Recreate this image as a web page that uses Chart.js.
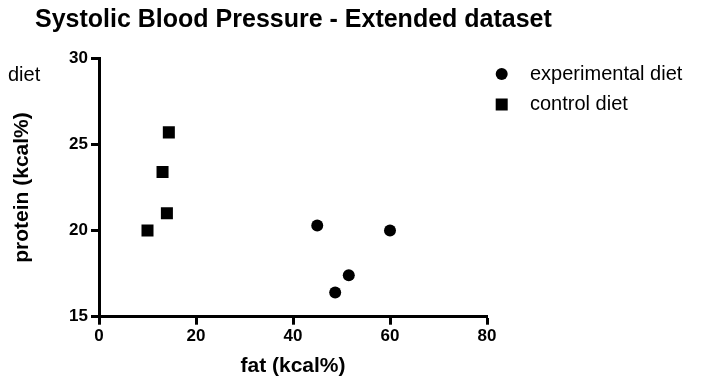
<!DOCTYPE html>
<html>
<head>
<meta charset="utf-8">
<script src="https://cdn.jsdelivr.net/npm/chart.js@4/dist/chart.umd.min.js"></script>
<style>
html,body{margin:0;padding:0;background:#fff;}
#wrap{width:704px;height:381px;position:relative;}
</style>
</head>
<body>
<div id="wrap"><canvas id="c" width="704" height="381"></canvas></div>
<script>
const chartTitle = "Systolic Blood Pressure - Extended dataset";
const xAxisTitle = "fat (kcal%)";
const yAxisTitle = "protein (kcal%)";
const legendTitle = "diet";
const seriesNames = ["experimental diet", "control diet"];
const experimentalFat = [45, 60, 51.5, 48.7];
const experimentalProtein = [20.3, 20, 17.4, 16.4];
const controlFat = [14.4, 13.1, 14, 10];
const controlProtein = [25.7, 23.4, 21, 20];
const xTicks = [0, 20, 40, 60, 80];
const yTicks = [15, 20, 25, 30];

const FONT = '"Liberation Sans", Arial, Helvetica, sans-serif';
Chart.defaults.font.family = FONT;
Chart.defaults.color = '#000';

function pts(xs, ys){ return xs.map((x,i)=>({x:x, y:ys[i]})); }

const overlay = {
  id: 'overlay',
  afterDraw(chart){
    const ctx = chart.ctx;
    ctx.save();
    ctx.fillStyle = '#000';
    ctx.font = 'bold 25px ' + FONT;
    ctx.textBaseline = 'alphabetic';
    ctx.textAlign = 'left';
    ctx.fillText(chartTitle, 35, 27);
    ctx.font = '20px ' + FONT;
    ctx.textBaseline = 'middle';
    ctx.fillText(legendTitle, 8, 75);
    ctx.fillText(seriesNames[0], 530, 74);
    ctx.fillText(seriesNames[1], 530, 104.5);
    ctx.beginPath();
    ctx.arc(501.7, 74, 6, 0, Math.PI*2);
    ctx.fill();
    ctx.fillRect(495.7, 98.5, 12, 12);
    ctx.restore();
  }
};

new Chart(document.getElementById('c'), {
  type: 'scatter',
  data: {
    datasets: [
      { label: seriesNames[0], data: pts(experimentalFat, experimentalProtein),
        pointStyle: 'circle', pointRadius: 6, pointHoverRadius: 6,
        backgroundColor: '#000', borderColor: '#000', borderWidth: 0 },
      { label: seriesNames[1], data: pts(controlFat, controlProtein),
        pointStyle: 'rect', pointRadius: 8.5, pointHoverRadius: 8.5,
        backgroundColor: '#000', borderColor: '#000', borderWidth: 0 }
    ]
  },
  options: {
    responsive: false,
    animation: false,
    devicePixelRatio: 1,
    layout: { padding: { left: 0, top: 58.3, right: 217, bottom: 0 } },
    plugins: { legend: { display: false }, title: { display: false }, tooltip: { enabled: false } },
    scales: {
      x: {
        type: 'linear', min: 0, max: 80,
        afterBuildTicks(scale){ scale.ticks = xTicks.map(v=>({value:v})); },
        afterFit(scale){ scale.height = 64.3; },
        grid: { display: true, drawOnChartArea: false, drawTicks: true, tickLength: 8, tickWidth: 3, tickColor: '#000' },
        border: { display: true, width: 3, color: '#000' },
        ticks: { color: '#000', padding: 1, font: { size: 17, weight: 'bold' }, maxRotation: 0 },
        title: { display: true, text: xAxisTitle, color: '#000', font: { size: 21, weight: 'bold' }, padding: { top: 0, bottom: 2 } }
      },
      y: {
        type: 'linear', min: 15, max: 30,
        afterBuildTicks(scale){ scale.ticks = yTicks.map(v=>({value:v})); },
        afterFit(scale){ scale.width = 99; },
        grid: { display: true, drawOnChartArea: false, drawTicks: true, tickLength: 8, tickWidth: 3, tickColor: '#000' },
        border: { display: true, width: 3, color: '#000' },
        ticks: { color: '#000', padding: 3, font: { size: 17, weight: 'bold' } },
        title: { display: true, text: yAxisTitle, color: '#000', font: { size: 21, weight: 'bold' }, padding: { top: 10, bottom: 0 } }
      }
    }
  },
  plugins: [overlay]
});
</script>
</body>
</html>
